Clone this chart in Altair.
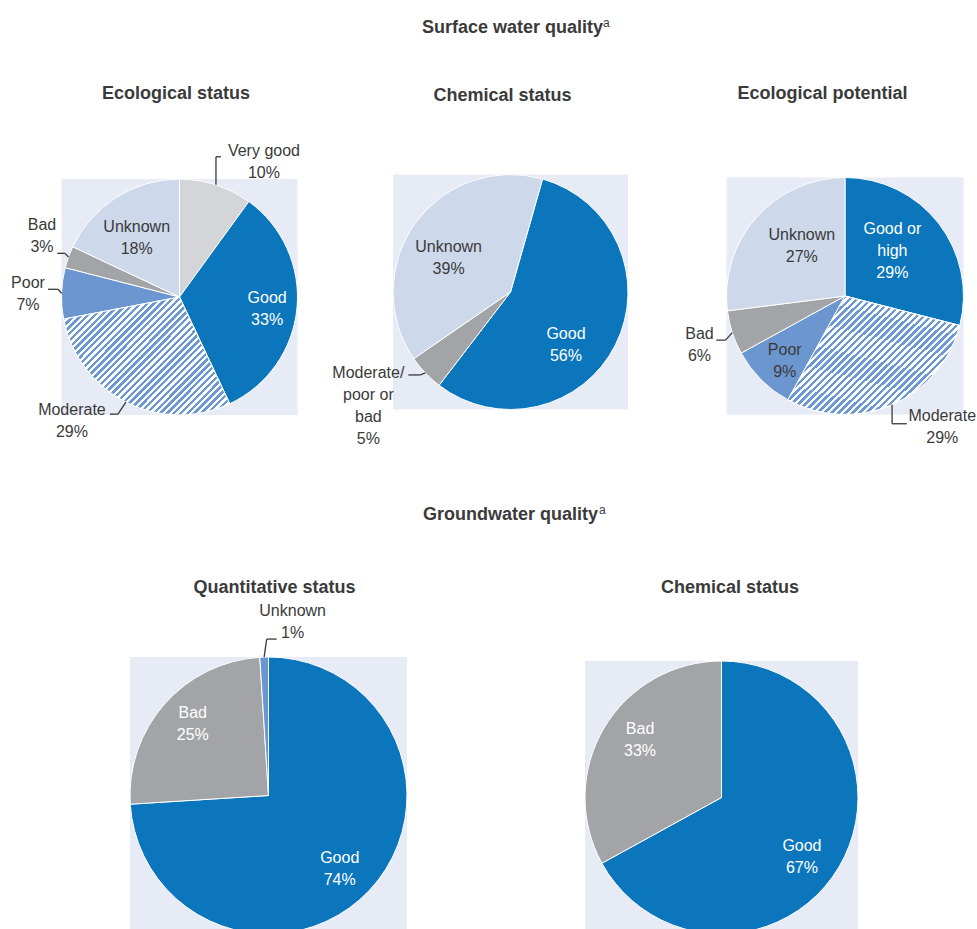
import altair as alt
import pandas as pd

# ---------------- data ----------------
pie_ids = ["eco_status", "chem_status", "eco_potential", "gw_quant", "gw_chem"]
pie_titles = ["Ecological status", "Chemical status", "Ecological potential",
              "Quantitative status", "Chemical status"]
section_titles = ["Surface water quality", "Groundwater quality"]
section_note = "a"

eco_status_cats = ["Very good", "Good", "Moderate", "Poor", "Bad", "Unknown"]
eco_status_vals = [10, 33, 29, 7, 3, 18]
chem_status_cats = ["Good", "Moderate/poor or bad", "Unknown"]
chem_status_vals = [56, 5, 39]
eco_potential_cats = ["Good or high", "Moderate", "Poor", "Bad", "Unknown"]
eco_potential_vals = [29, 29, 9, 6, 27]
gw_quant_cats = ["Good", "Bad", "Unknown"]
gw_quant_vals = [74, 25, 1]
gw_chem_cats = ["Good", "Bad"]
gw_chem_vals = [67, 33]

cats = {"eco_status": eco_status_cats, "chem_status": chem_status_cats,
        "eco_potential": eco_potential_cats, "gw_quant": gw_quant_cats,
        "gw_chem": gw_chem_cats}
vals = {"eco_status": eco_status_vals, "chem_status": chem_status_vals,
        "eco_potential": eco_potential_vals, "gw_quant": gw_quant_vals,
        "gw_chem": gw_chem_vals}

# ---------------- styles ----------------
FONT = "Liberation Sans, Arial, Helvetica, sans-serif"
DARK = "#3a3a3a"
BG = "#e7ebf6"
STRIPE = "#6c99d3"
LINE_H = 22
fill_keys = ["verygood", "good", "moderate", "poor", "bad", "unknown"]
fill_colors = ["#d4d5d8", "#0b76bc", "#ffffff", "#6b96cf", "#a3a4a7", "#cdd8eb"]
style_of = {"Very good": "verygood", "Good": "good", "Good or high": "good",
            "Moderate": "moderate", "Poor": "poor", "Bad": "bad",
            "Unknown": "unknown", "Moderate/poor or bad": "bad"}
style_override = {("gw_quant", "Unknown"): "poor"}
wrap = {"Good or high": "Good or\nhigh", "Moderate/poor or bad": "Moderate/\npoor or\nbad"}

# ---------------- layout ----------------
pie_layout = {
    "eco_status":    dict(cx=179.5, cy=297.0, r=118.0, off=0.0, tx=176.0, ty=98.5),
    "chem_status":   dict(cx=510.5, cy=292.0, r=117.5, off=4.4, tx=502.5, ty=100.5),
    "eco_potential": dict(cx=845.0, cy=296.0, r=118.5, off=0.0, tx=822.5, ty=98.5),
    "gw_quant":      dict(cx=268.5, cy=795.5, r=138.5, off=0.0, tx=274.5, ty=592.5),
    "gw_chem":       dict(cx=721.5, cy=797.5, r=136.5, off=0.0, tx=730.0, ty=592.5),
}
section_layout = [dict(x=422.0, y=33.0, sx=603.0, sy=26.5),
                  dict(x=423.0, y=520.0, sx=599.0, sy=513.5)]
# inside labels: (angle nudge deg, radius fraction, colour)
# outside labels: (elbow dx, elbow dy, horizontal run, label dx, label dy)
label_layout = {
    ("eco_status", "Very good"): ("out", 0, -28, 5, 43, 5),
    ("eco_status", "Good"): ("in", 2.7, 0.75, "white"),
    ("eco_status", "Moderate"): ("out", -8, 12, -8, -38, 6.5),
    ("eco_status", "Poor"): ("out", -3.6, -4, -10, -20, 4.7),
    ("eco_status", "Bad"): ("out", -3.5, -3.7, -7.7, -15.3, -17.7),
    ("eco_status", "Unknown"): ("in", -3.4, 0.62, "dark"),
    ("chem_status", "Good"): ("in", 16.8, 0.65, "white"),
    ("chem_status", "Moderate/poor or bad"): ("out", -5, 2, -12, -40, 31),
    ("chem_status", "Unknown"): ("in", -7, 0.6, "dark"),
    ("eco_potential", "Good or high"): ("in", -5.6, 0.55, "white"),
    ("eco_potential", "Moderate"): ("out", 0, 19, 14.7, 35.5, 3.2),
    ("eco_potential", "Poor"): ("in", -2.1, 0.747, "dark"),
    ("eco_potential", "Bad"): ("out", -6.8, 7.5, -9.3, -16.7, 5),
    ("eco_potential", "Unknown"): ("in", 7.6, 0.556, "dark"),
    ("gw_quant", "Good"): ("in", 2.8, 0.74, "white"),
    ("gw_quant", "Bad"): ("in", 1.8, 0.75, "white"),
    ("gw_quant", "Unknown"): ("out", 2.5, -18, 10, 16, -17),
    ("gw_chem", "Good"): ("in", 6.1, 0.735, "white"),
    ("gw_chem", "Bad"): ("in", 4.6, 0.73, "white"),
}

rows = []
for pid in pie_ids:
    L = pie_layout[pid]
    for i, (c, v) in enumerate(zip(cats[pid], vals[pid])):
        lab = label_layout[(pid, c)]
        text = wrap.get(c, c) + "\n" + f"{v}%"
        shift = (text.count("\n")) * LINE_H / 2.0  # first line sits at y: lift block to centre it
        row = dict(pie=pid, order=i, cat=c, value=v,
                   fill=style_override.get((pid, c), style_of[c]),
                   cx=L["cx"], cy=L["cy"], r=L["r"], off=L["off"], cyl=L["cy"] - shift,
                   text=text, mode=lab[0],
                   dth=0.0, rf=0.0, tcol="", ex=0.0, ey=0.0, hx=0.0, lx=0.0, ly=0.0)
        if lab[0] == "in":
            row.update(dth=lab[1], rf=lab[2], tcol=lab[3])
        else:
            row.update(ex=lab[1], ey=lab[2], hx=lab[3], lx=lab[4], ly=lab[5] - shift)
        rows.append(row)
df = pd.DataFrame(rows)

pies_df = pd.DataFrame([dict(pie=p, title=t, **pie_layout[p]) for p, t in zip(pie_ids, pie_titles)])
sec_df = pd.DataFrame([dict(text=t, note=section_note, **l) for t, l in zip(section_titles, section_layout)])


def X(f):
    return alt.X(f"{f}:Q", scale=None, axis=None)


def Y(f):
    return alt.Y(f"{f}:Q", scale=None, axis=None)


theta_scale = alt.Scale(domain=[0, 100], range=[0, 6.283185307179586])

base = (
    alt.Chart(df)
    .transform_stack(stack="value", groupby=["pie"], as_=["v0", "v1"],
                     sort=[alt.SortField("order", order="ascending")])
    .transform_calculate(
        t0="datum.v0 + datum.off",
        t1="datum.v1 + datum.off",
        tm="(datum.v0 + datum.v1) / 2 + datum.off",
    )
)

# background squares
bg = (
    alt.Chart(pies_df)
    .transform_calculate(x0="datum.cx - datum.r", x1="datum.cx + datum.r",
                         y0="datum.cy - datum.r", y1="datum.cy + datum.r")
    .mark_rect(color=BG)
    .encode(x=X("x0"), x2="x1:Q", y=Y("y0"), y2="y1:Q")
)

arc_enc = dict(
    x=X("cx"), y=Y("cy"),
    theta=alt.Theta("t0:Q", scale=theta_scale),
    theta2="t1:Q",
    radius=alt.Radius("r:Q", scale=None),
)

arcs = base.mark_arc(stroke="white", strokeWidth=1).encode(
    color=alt.Color("fill:N", scale=alt.Scale(domain=fill_keys, range=fill_colors), legend=None),
    **arc_enc,
)

# hatch pattern for "Moderate" via hard-stop gradient
N = 44
stops = []
for i in range(N):
    a, b, c = round(i / N, 5), round((i + 0.5) / N, 5), round((i + 1) / N, 5)
    stops += [alt.GradientStop(color=STRIPE, offset=a), alt.GradientStop(color=STRIPE, offset=b),
              alt.GradientStop(color="#ffffff", offset=b), alt.GradientStop(color="#ffffff", offset=c)]
hatch_fill = alt.LinearGradient(gradient="linear", stops=stops, x1=0, y1=0, x2=1.2, y2=0.85)

hatch = (
    base.transform_filter("datum.fill == 'moderate'")
    .mark_arc(fill=hatch_fill, stroke="white", strokeWidth=1)
    .encode(**arc_enc)
)

# inside labels (polar placement)
inside = base.transform_filter("datum.mode == 'in'").transform_calculate(
    tl="datum.tm + datum.dth / 3.6", rl="datum.r * datum.rf")
txt_kw = dict(font=FONT, fontSize=16, lineBreak="\n", lineHeight=LINE_H, align="center", baseline="middle")
in_enc = dict(x=X("cx"), y=Y("cyl"),
              theta=alt.Theta("tl:Q", scale=theta_scale, stack=False),
              radius=alt.Radius("rl:Q", scale=None), text="text:N")
in_white = inside.transform_filter("datum.tcol == 'white'").mark_text(color="white", **txt_kw).encode(**in_enc)
in_dark = inside.transform_filter("datum.tcol == 'dark'").mark_text(color=DARK, **txt_kw).encode(**in_enc)

# outside labels with leader lines
outside = base.transform_filter("datum.mode == 'out'").transform_calculate(
    ang="datum.tm * PI / 50",
).transform_calculate(
    px0="datum.cx + datum.r * sin(datum.ang)",
    py0="datum.cy - datum.r * cos(datum.ang)",
).transform_calculate(
    px1="datum.px0 + datum.ex", py1="datum.py0 + datum.ey",
).transform_calculate(
    px2="datum.px1 + datum.hx", py2="datum.py1",
).transform_calculate(
    tx="datum.px2 + datum.lx", ty="datum.py2 + datum.ly",
)
lead1 = outside.mark_rule(color=DARK, strokeWidth=1.3).encode(x=X("px0"), y=Y("py0"), x2="px1:Q", y2="py1:Q")
lead2 = outside.mark_rule(color=DARK, strokeWidth=1.3).encode(x=X("px1"), y=Y("py1"), x2="px2:Q", y2="py2:Q")
out_txt = outside.mark_text(color=DARK, **txt_kw).encode(x=X("tx"), y=Y("ty"), text="text:N")

# titles
pie_title = alt.Chart(pies_df).mark_text(font=FONT, fontSize=18, fontWeight="bold", color=DARK,
                                         align="center", baseline="alphabetic").encode(
    x=X("tx"), y=Y("ty"), text="title:N")
sec_title = alt.Chart(sec_df).mark_text(font=FONT, fontSize=18, fontWeight="bold", color=DARK,
                                        align="left", baseline="alphabetic").encode(
    x=X("x"), y=Y("y"), text="text:N")
sec_note = alt.Chart(sec_df).mark_text(font=FONT, fontSize=12, color=DARK,
                                       align="left", baseline="alphabetic").encode(
    x=X("sx"), y=Y("sy"), text="note:N")

chart = alt.layer(bg, arcs, hatch, lead1, lead2, in_white, in_dark, out_txt,
                  pie_title, sec_title, sec_note).properties(
    width=977, height=929, padding=0, background="white",
    autosize=alt.AutoSizeParams(type="none"),
).configure_view(strokeWidth=0)

chart.save("out.html", embed_options={"renderer": "svg", "actions": False})
